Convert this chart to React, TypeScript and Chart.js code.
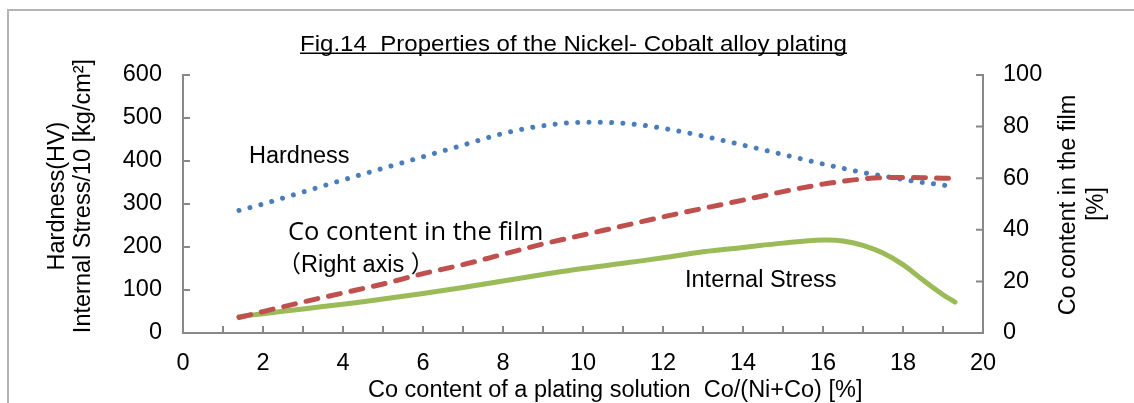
import { useEffect, useRef } from 'react';
import { Chart, registerables } from 'chart.js';

Chart.register(...registerables);

// ---- data ----
const xValues = [1.4, 2, 3, 4, 5, 6, 7, 8, 9, 10, 11, 12, 13, 14, 15, 16, 16.5, 17, 17.5, 18, 18.5, 19, 19.3];
const hardness = [285, 300, 328, 356, 383, 410, 437, 464, 482, 490, 488, 476, 458, 437, 415, 393, 383, 373, 365, 357, 350, 344, 339];
const internalStress = [38, 45, 56, 67, 79, 92, 106, 121, 136, 150, 162, 175, 189, 199, 209, 216, 214, 204, 186, 159, 123, 89, 72];
const coInFilm = [6, 8.3, 12, 15.5, 19, 23, 26.5, 30.5, 34.5, 38, 41.5, 45, 48.3, 51.5, 54.8, 57.7, 58.8, 59.7, 60.2, 60.3, 60.2, 60, 60];

const xMin = 0;
const xMax = 20;
const xStep = 1;
const xLabelEvery = 2;
const leftMax = 600;
const leftStep = 100;
const rightMax = 100;
const rightStep = 20;

const titleText = 'Fig.14  Properties of the Nickel- Cobalt alloy plating';
const xTitle = 'Co content of a plating solution  Co/(Ni+Co) [%]';
const leftTitle = ['Hardness(HV)', 'Internal Stress/10 [kg/cm\u00B2]'];
const rightTitle = ['Co content in the film', '[%]'];
const hardnessLabel = 'Hardness';
const stressLabel = 'Internal Stress';
const coLabel = 'Co content in the film';
const coLabel2 = '\uFF08Right axis \uFF09';

const FONT = '"Liberation Sans", Arial, sans-serif';
const FS = 23.5;
const AXIS_COLOR = '#888888';

const pts = (ys: number[]) => xValues.map((x, i) => ({ x, y: ys[i] }));

const decorPlugin = {
  id: 'decor',
  beforeDraw(chart: any) {
    const ctx = chart.ctx;
    ctx.save();
    ctx.fillStyle = '#ffffff';
    ctx.fillRect(0, 0, chart.width, chart.height);
    ctx.strokeStyle = '#b4b4b4';
    ctx.lineWidth = 2;
    ctx.beginPath();
    ctx.moveTo(8, chart.height + 2);
    ctx.lineTo(8, 10);
    ctx.lineTo(chart.width + 2, 10);
    ctx.stroke();
    ctx.restore();
  },
  beforeDatasetsDraw(chart: any) {
    const ctx = chart.ctx;
    const { x, y, y1 } = chart.scales;
    const area = chart.chartArea;
    const L = 7;
    ctx.save();
    ctx.strokeStyle = AXIS_COLOR;
    ctx.lineWidth = 2;
    ctx.beginPath();
    x.ticks.forEach((t: any) => {
      const px = x.getPixelForValue(t.value);
      ctx.moveTo(px, area.bottom);
      ctx.lineTo(px, area.bottom - L);
    });
    y.ticks.forEach((t: any) => {
      const py = y.getPixelForValue(t.value);
      ctx.moveTo(area.left, py);
      ctx.lineTo(area.left + L, py);
    });
    y1.ticks.forEach((t: any) => {
      const py = y1.getPixelForValue(t.value);
      ctx.moveTo(area.right, py);
      ctx.lineTo(area.right - L, py);
    });
    ctx.stroke();
    ctx.restore();
  },
  afterDraw(chart: any) {
    const ctx = chart.ctx;
    ctx.save();
    ctx.fillStyle = '#000000';
    ctx.textBaseline = 'alphabetic';

    // title (underlined)
    ctx.font = `21.5px ${FONT}`;
    ctx.textAlign = 'left';
    const tw = ctx.measureText(titleText).width;
    const targetW = 547;
    const tx = 300;
    ctx.save();
    ctx.translate(tx, 50.5);
    ctx.scale(targetW / tw, 1);
    ctx.fillText(titleText, 0, 0);
    ctx.restore();
    ctx.fillRect(tx, 52.5, targetW, 1.5);

    // annotations
    ctx.font = `${FS}px ${FONT}`;
    ctx.fillText(hardnessLabel, 249, 163);
    ctx.fillText(stressLabel, 685, 287);
    ctx.fillText(xTitle, 368, 397);

    ctx.font = `25.5px "Open Sans", ${FONT}`;
    ctx.fillText(coLabel, 288, 240);
    ctx.font = `${FS}px "Liberation Sans", Arial, "Noto Sans CJK JP", sans-serif`;
    ctx.fillText(coLabel2, 277.5, 271.5);

    // rotated axis titles
    ctx.font = `${FS}px ${FONT}`;
    ctx.textAlign = 'center';
    const rot = (text: string, bx: number, cy: number) => {
      ctx.save();
      ctx.translate(bx, cy);
      ctx.rotate(-Math.PI / 2);
      ctx.fillText(text, 0, 0);
      ctx.restore();
    };
    rot(leftTitle[0], 63.5, 196);
    rot(leftTitle[1], 90, 196);
    rot(rightTitle[0], 1075, 205);
    rot(rightTitle[1], 1103, 204);
    ctx.restore();
  },
};

export default function App() {
  const ref = useRef<HTMLCanvasElement | null>(null);

  useEffect(() => {
    document.body.style.margin = '0';
    const canvas = ref.current;
    if (!canvas) return;
    const tickFont = { family: FONT, size: FS };
    const chart = new Chart(canvas, {
      type: 'line',
      data: {
        datasets: [
          {
            label: 'Co content in the film',
            data: pts(coInFilm),
            yAxisID: 'y1',
            borderColor: '#C0504D',
            borderWidth: 5,
            borderDash: [12, 11],
            borderCapStyle: 'round',
            borderJoinStyle: 'round',
            pointRadius: 0,
            fill: false,
            cubicInterpolationMode: 'monotone',
            order: 0,
          },
          {
            label: 'Hardness',
            data: pts(hardness),
            yAxisID: 'y',
            borderColor: '#4A7EBB',
            borderWidth: 5,
            borderDash: [0.01, 11.3],
            borderCapStyle: 'round',
            borderJoinStyle: 'round',
            pointRadius: 0,
            fill: false,
            cubicInterpolationMode: 'monotone',
            order: 1,
          },
          {
            label: 'Internal Stress',
            data: pts(internalStress),
            yAxisID: 'y',
            borderColor: '#9BBB59',
            borderWidth: 5,
            borderCapStyle: 'round',
            borderJoinStyle: 'round',
            pointRadius: 0,
            fill: false,
            tension: 0.4,
            order: 2,
          },
        ],
      },
      options: {
        responsive: false,
        animation: false,
        devicePixelRatio: 1,
        layout: { padding: { top: 75, left: 0, right: 0, bottom: 0 } },
        plugins: {
          legend: { display: false },
          tooltip: { enabled: false },
          title: { display: false },
        },
        scales: {
          x: {
            type: 'linear',
            min: xMin,
            max: xMax,
            ticks: {
              stepSize: xStep,
              autoSkip: false,
              maxRotation: 0,
              color: '#000',
              font: tickFont,
              padding: 16,
              callback: (v: any) => (Number(v) % xLabelEvery === 0 ? String(v) : ''),
            },
            grid: { display: false, drawTicks: false },
            border: { display: true, color: AXIS_COLOR, width: 2 },
            afterFit: (s: any) => {
              s.height = 70;
            },
          },
          y: {
            type: 'linear',
            position: 'left',
            min: 0,
            max: leftMax,
            ticks: { stepSize: leftStep, color: '#000', font: tickFont, padding: 21 },
            grid: { display: false, drawTicks: false },
            border: { display: true, color: AXIS_COLOR, width: 2 },
            afterFit: (s: any) => {
              s.width = 183;
            },
          },
          y1: {
            type: 'linear',
            position: 'right',
            min: 0,
            max: rightMax,
            ticks: { stepSize: rightStep, color: '#000', font: tickFont, padding: 20 },
            grid: { display: false, drawTicks: false },
            border: { display: true, color: AXIS_COLOR, width: 2 },
            afterFit: (s: any) => {
              s.width = 151;
            },
          },
        },
      } as any,
      plugins: [decorPlugin],
    });
    return () => chart.destroy();
  }, []);

  return (
    <div style={{ position: 'absolute', left: 0, top: 0, width: 1134, height: 403 }}>
      <canvas ref={ref} width={1134} height={403} style={{ display: 'block', width: 1134, height: 403 }} />
    </div>
  );
}
